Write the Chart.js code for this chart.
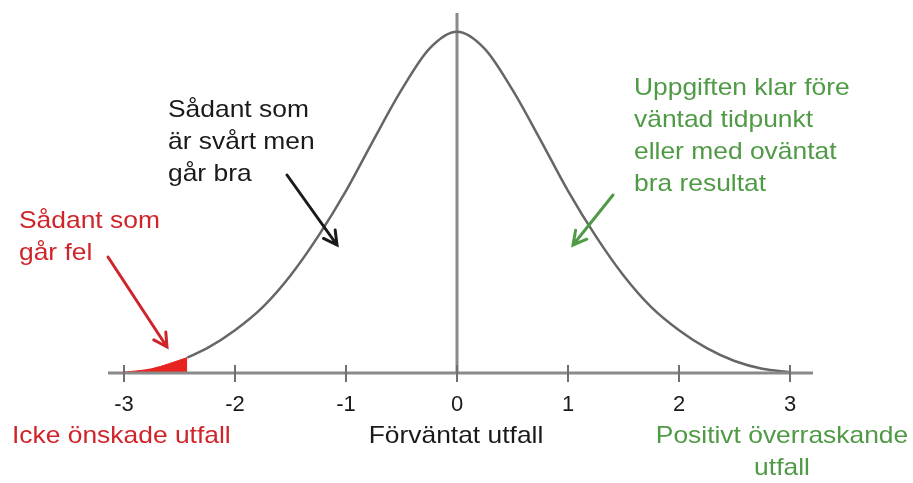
<!DOCTYPE html>
<html>
<head>
<meta charset="utf-8">
<script src="https://cdn.jsdelivr.net/npm/chart.js@4.4.0/dist/chart.umd.min.js"></script>
<style>
  html, body { margin: 0; background: #fff; }
  #wrap { width: 913px; height: 483px; }
</style>
</head>
<body>
<div id="wrap"><canvas id="chart"></canvas></div>
<script>
// curve (x in standard deviations, y as density)
const curveX = [-3, -2.75, -2.43, -2.25, -2, -1.75, -1.5, -1.25, -1, -0.75, -0.5, -0.25, 0, 0.25, 0.5, 0.75, 1, 1.25, 1.5, 1.75, 2, 2.25, 2.5, 2.75, 3];
const curveY = [0.001, 0.005, 0.018, 0.029, 0.050, 0.077, 0.114, 0.160, 0.213, 0.273, 0.331, 0.379, 0.399, 0.379, 0.331, 0.273, 0.213, 0.160, 0.114, 0.077, 0.050, 0.029, 0.014, 0.005, 0.001];
const shadeEnd = -2.43;
const xTicks = [-3, -2, -1, 0, 1, 2, 3];
const yMax = 0.421;

const red = '#d0242b';
const green = '#4f9a45';
const black = '#1a1a1a';
const grey = '#8a8a8a';

const points = curveX.map((x, i) => ({ x: x, y: curveY[i] }));
const shaded = points.filter(p => p.x <= shadeEnd);
const line = points.filter(p => p.x >= shadeEnd);

// text and arrows around the curve (pixel positions)
const labels = [
  { lines: ['Sådant som', 'går fel'], x: 19, y: 228, color: red, align: 'left' },
  { lines: ['Sådant som', 'är svårt men', 'går bra'], x: 168, y: 117, color: black, align: 'left' },
  { lines: ['Uppgiften klar före', 'väntad tidpunkt', 'eller med oväntat', 'bra resultat'], x: 634, y: 95, color: green, align: 'left' },
  { lines: ['Icke önskade utfall'], x: 12, y: 443, color: red, align: 'left' },
  { lines: ['Förväntat utfall'], x: 456, y: 443, color: black, align: 'center' },
  { lines: ['Positivt överraskande', 'utfall'], x: 782, y: 443, color: green, align: 'center' }
];
const arrows = [
  { from: [108, 257], to: [167, 347], color: red },
  { from: [287, 175], to: [337, 245], color: black },
  { from: [613, 195], to: [573, 245], color: green }
];

const extras = {
  id: 'extras',
  afterDatasetsDraw(chart) {
    const ctx = chart.ctx;
    const xs = chart.scales.x;
    const ys = chart.scales.y;
    const base = ys.getPixelForValue(0);

    ctx.save();
    ctx.strokeStyle = grey;
    ctx.lineWidth = 3;
    ctx.beginPath();
    ctx.moveTo(xs.left, base);
    ctx.lineTo(xs.right, base);
    ctx.stroke();

    ctx.lineWidth = 2;
    ctx.strokeStyle = '#707070';
    xTicks.forEach(v => {
      const px = xs.getPixelForValue(v);
      ctx.beginPath();
      ctx.moveTo(px, base - 8);
      ctx.lineTo(px, base + 9);
      ctx.stroke();
    });

    arrows.forEach(a => {
      const [x1, y1] = a.from;
      const [x2, y2] = a.to;
      const ang = Math.atan2(y2 - y1, x2 - x1);
      ctx.strokeStyle = a.color;
      ctx.lineWidth = 3;
      ctx.lineCap = 'round';
      ctx.beginPath();
      ctx.moveTo(x1, y1);
      ctx.lineTo(x2, y2);
      ctx.moveTo(x2 - 15 * Math.cos(ang - 0.5), y2 - 15 * Math.sin(ang - 0.5));
      ctx.lineTo(x2, y2);
      ctx.lineTo(x2 - 15 * Math.cos(ang + 0.5), y2 - 15 * Math.sin(ang + 0.5));
      ctx.stroke();
    });

    ctx.font = '24px "Liberation Sans", Arial, sans-serif';
    ctx.textBaseline = 'alphabetic';
    labels.forEach(l => {
      ctx.fillStyle = l.color;
      ctx.textAlign = l.align;
      l.lines.forEach((t, i) => {
        ctx.save();
        ctx.translate(l.x, l.y + i * 32);
        ctx.scale(1.1, 1);
        ctx.fillText(t, 0, 0);
        ctx.restore();
      });
    });
    ctx.restore();
  }
};

new Chart(document.getElementById('chart'), {
  type: 'line',
  data: {
    datasets: [
      {
        data: line,
        borderColor: '#666666',
        borderWidth: 2.5,
        pointRadius: 0,
        cubicInterpolationMode: 'monotone',
        fill: false
      },
      {
        data: [{ x: 0, y: 0 }, { x: 0, y: yMax }],
        borderColor: grey,
        borderWidth: 3,
        pointRadius: 0,
        fill: false
      },
      {
        data: shaded,
        borderColor: '#e8231f',
        backgroundColor: '#e8231f',
        borderWidth: 1,
        pointRadius: 0,
        cubicInterpolationMode: 'monotone',
        fill: 'origin'
      }
    ]
  },
  options: {
    responsive: true,
    maintainAspectRatio: false,
    animation: false,
    layout: { padding: { left: 108, right: 100, top: 13, bottom: 0 } },
    plugins: { legend: { display: false }, tooltip: { enabled: false } },
    elements: { line: { clip: false } },
    scales: {
      x: {
        type: 'linear',
        min: -3.144,
        max: 3.207,
        afterBuildTicks: s => { s.ticks = xTicks.map(v => ({ value: v })); },
        afterFit: s => { s.height = 110; },
        grid: { display: false, drawTicks: false },
        border: { display: false },
        ticks: {
          autoSkip: false,
          maxRotation: 0,
          padding: 19,
          color: black,
          font: { family: '"Liberation Sans", Arial, sans-serif', size: 22 },
          callback: v => String(v)
        }
      },
      y: {
        display: false,
        min: 0,
        max: yMax
      }
    }
  },
  plugins: [extras]
});
</script>
</body>
</html>
